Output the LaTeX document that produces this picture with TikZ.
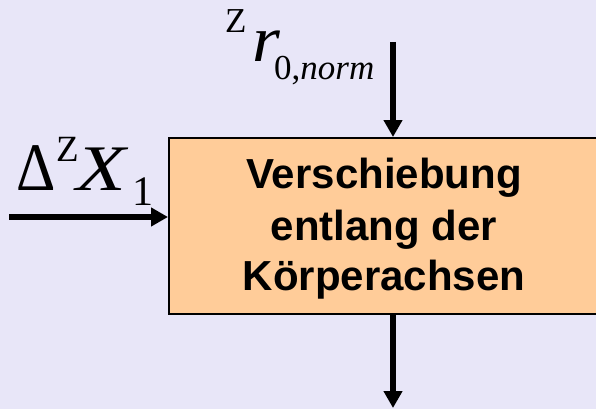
\documentclass[tikz,border=0pt]{standalone}
\usepackage{fontspec}
\setmainfont{Liberation Serif}
\setsansfont{Liberation Sans}
\usetikzlibrary{arrows.meta}
\definecolor{bgcol}{RGB}{232,230,248}
\definecolor{boxcol}{RGB}{255,204,153}
\tikzset{
  flow/.style={line width=5.5pt,-{Triangle[length=17pt,width=18pt]}},
  lbl/.style={inner sep=0pt,anchor=base west},
}
\newcommand{\fs}[1]{\fontsize{#1}{#1}\selectfont}
\begin{document}
\begin{tikzpicture}[x=1pt,y=-1pt]
\fill[bgcol] (0,0) rectangle (596,409);
\useasboundingbox (0,0) rectangle (596,409);
\node[draw=black,line width=2pt,fill=boxcol,minimum width=432pt,minimum height=176pt,anchor=north west,inner sep=0pt] (box) at (168,137) {};
\node[lbl,anchor=base,font=\sffamily\bfseries\fs{42}] (t1) at (384,188) {Verschiebung};
\node[lbl,anchor=base,font=\sffamily\bfseries\fs{42}] (t2) at (384,240) {entlang der};
\node[lbl,anchor=base,font=\sffamily\bfseries\fs{42}] (t3) at (384,290) {Körperachsen};
% top input
\coordinate (tin) at (393,42);
\draw[flow] (tin) -- (box.north -| tin);
\node[lbl,font=\fs{35}] (tz) at (225,33) {Z};
\node[lbl,font=\fs{65}\itshape,xscale=1.1] (tr) at (252,62) {r};
\node[lbl,font=\fs{35}] (tsub) at (274,80) {0,\textit{norm}};
% left input
\coordinate (lin) at (9,217);
\draw[flow] (lin) -- (box.west |- lin);
\node[lbl,font=\fs{68},xscale=0.9] (dl) at (16,190) {Δ};
\node[lbl,font=\fs{37}] (dz) at (56,161) {Z};
\node[lbl,font=\fs{65}\itshape,xscale=1.25] (dx) at (76,190) {X};
\node[lbl,font=\fs{42}] (d1) at (132,205) {1};
% output
\coordinate (out) at (393,408);
\draw[flow] (box.south -| out) -- (out);
\end{tikzpicture}
\end{document}
